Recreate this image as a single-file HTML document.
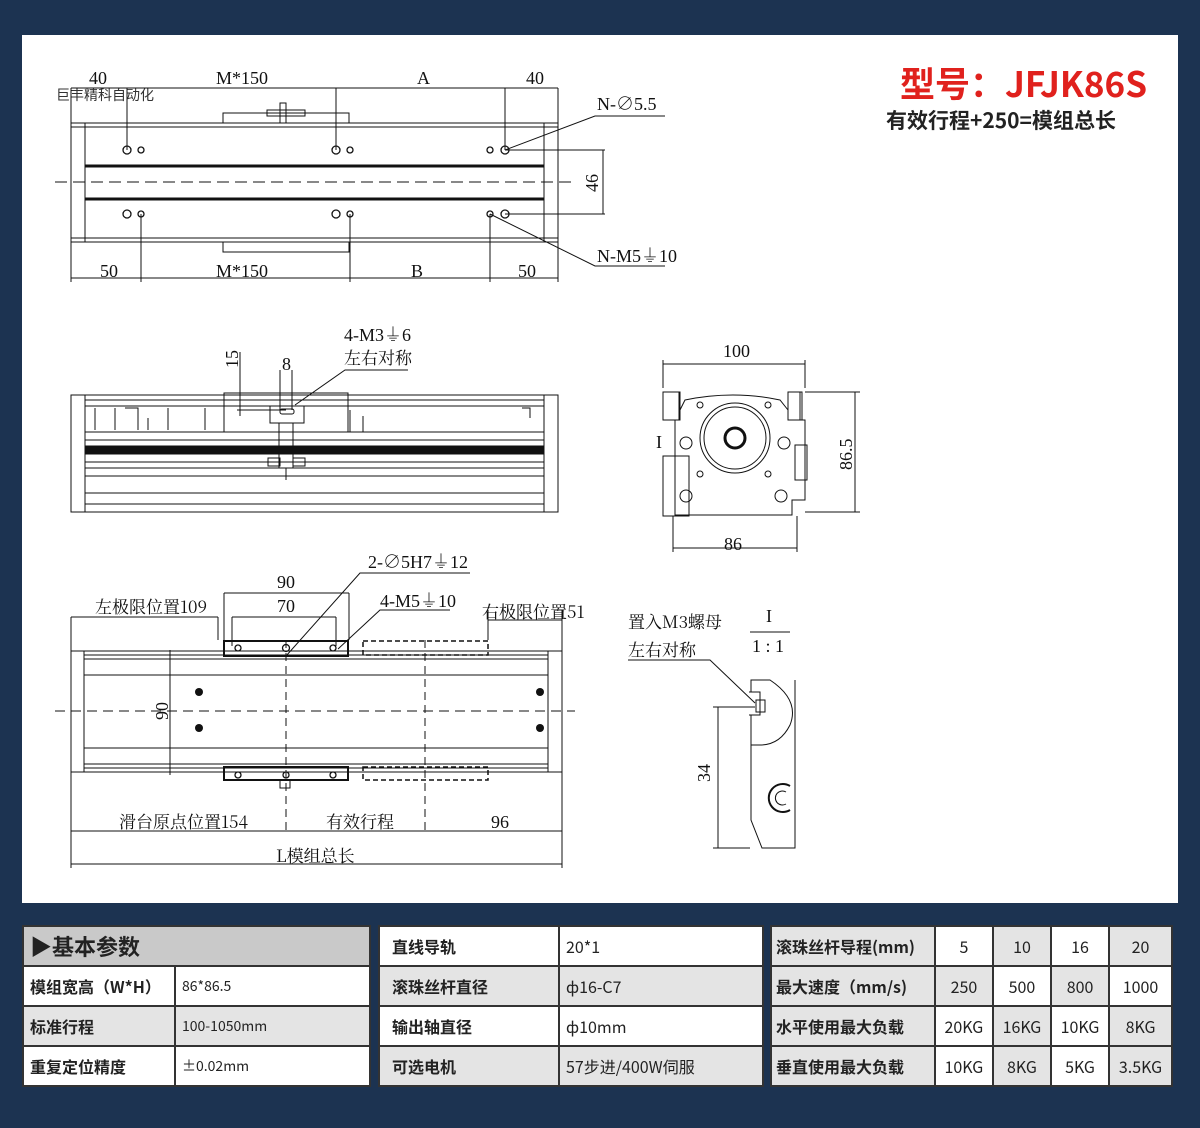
<!DOCTYPE html>
<html><head><meta charset="utf-8"><style>
body{margin:0;width:1200px;height:1128px;background:#1c3351;overflow:hidden;font-family:"Liberation Sans","Noto Sans CJK SC",sans-serif}
#p{position:absolute;left:22px;top:35px;width:1156px;height:868px;background:#fff}
svg{position:absolute;left:0;top:0}
.t{position:absolute;border-collapse:collapse;font-family:"Noto Sans CJK SC",sans-serif;color:#222}
.t td{border:2px solid #333;height:38px;padding:0 6px;font-size:16px;font-weight:bold;white-space:nowrap}
.g{background:#e4e4e4}.w{background:#fff}
</style></head><body>
<div id="p"></div>
<svg width="1200" height="1128" font-family="Liberation Serif,Noto Serif CJK SC,serif" font-size="18" fill="none" stroke="#111" stroke-width="1">
<text x="900" y="97" fill="#e0211d" stroke="none" font-family="Noto Sans CJK SC,sans-serif" font-weight="bold" font-size="35">型号：JFJK86S</text>
<text x="886" y="128" fill="#222" stroke="none" font-family="Noto Sans CJK SC,sans-serif" font-weight="bold" font-size="21">有效行程+250=模组总长</text>
<text x="56" y="100" fill="#333" stroke="none" font-family="Noto Sans CJK SC,sans-serif" font-size="14">巨丰精科自动化</text>
<!-- TOP VIEW -->
<g>
<rect x="71" y="123" width="487" height="119"/><line x1="85" y1="123" x2="85" y2="242"/><line x1="544" y1="123" x2="544" y2="242"/>
<line x1="71" y1="127" x2="558" y2="127"/><line x1="71" y1="238" x2="558" y2="238"/>
<line x1="85" y1="166" x2="544" y2="166" stroke-width="3"/><line x1="85" y1="199" x2="544" y2="199" stroke-width="3"/>
<line x1="55" y1="182" x2="575" y2="182" stroke-dasharray="12,6"/>
<rect x="223" y="113" width="126" height="10"/><rect x="267" y="110" width="38" height="6"/><rect x="280" y="103" width="6" height="20"/>
<rect x="223" y="242" width="126" height="10"/>
<g stroke-width="1.3"><circle cx="127" cy="150" r="4"/><circle cx="141" cy="150" r="3"/><circle cx="336" cy="150" r="4"/><circle cx="350" cy="150" r="3"/><circle cx="490" cy="150" r="3"/><circle cx="505" cy="150" r="4"/>
<circle cx="127" cy="214" r="4"/><circle cx="141" cy="214" r="3"/><circle cx="336" cy="214" r="4"/><circle cx="350" cy="214" r="3"/><circle cx="490" cy="214" r="3"/><circle cx="505" cy="214" r="4"/></g>
<path d="M71 88H558M71 88V123M127 88V150M336 88V150M505 88V150M558 88V123M71 278H558M71 242V282M141 214V282M350 214V282M490 214V282M558 242V282M505 150H605M505 214H605M603 150V214M505 150L595 116H665M490 214L595 266H665"/>
<g fill="#111" stroke="none"><text x="89" y="84">40</text><text x="216" y="84">M*150</text><text x="417" y="84">A</text><text x="526" y="84">40</text>
<text x="100" y="277">50</text><text x="216" y="277">M*150</text><text x="411" y="277">B</text><text x="518" y="277">50</text>
<text x="597" y="110">N-∅5.5</text><text x="597" y="262">N-M5⏚10</text><text transform="translate(598,192) rotate(-90)">46</text></g>
</g>
<!-- SIDE VIEW -->
<g>
<rect x="71" y="395" width="487" height="117"/><line x1="85" y1="395" x2="85" y2="512"/><line x1="544" y1="395" x2="544" y2="512"/>
<line x1="85" y1="400" x2="544" y2="400"/><line x1="85" y1="406" x2="544" y2="406"/><line x1="85" y1="432" x2="544" y2="432"/><line x1="85" y1="440" x2="544" y2="440"/>
<rect x="85" y="446" width="459" height="8" fill="#111"/><line x1="85" y1="462" x2="544" y2="462"/><line x1="85" y1="468" x2="544" y2="468"/><line x1="85" y1="476" x2="544" y2="476"/><line x1="85" y1="493" x2="544" y2="493"/><line x1="85" y1="504" x2="544" y2="504"/>
<rect x="224" y="393" width="124" height="39"/><rect x="270" y="406" width="34" height="17"/><rect x="279" y="423" width="14" height="45"/><line x1="286" y1="468" x2="286" y2="480"/>
<rect x="268" y="458" width="12" height="8"/><rect x="293" y="458" width="12" height="8"/><rect x="280" y="409" width="14" height="5" rx="2"/>
<path d="M95 408V430M115 408V430M125 408H138V430M148 418V430M168 408V430M205 408V430M350 410V432M363 416V432M522 408H530V418"/>
<path d="M240 352V416M237 410H286M280 370V410M292 370V410M295 405L345 370H408"/>
<g fill="#111" stroke="none"><text x="344" y="341">4-M3⏚6</text><text x="344" y="364" font-family="Noto Serif CJK SC,serif" font-size="17">左右对称</text><text x="282" y="370">8</text><text transform="translate(238,368) rotate(-90)">15</text></g>
</g>
<!-- FRONT VIEW -->
<g>
<path d="M663 392H680V420H675V515H688M688 515H792V500H805V420H800V392H788V410L780 400Q733 390 685 400L680 410"/>
<rect x="663" y="392" width="16" height="28"/><rect x="788" y="392" width="14" height="28"/>
<circle cx="735" cy="438" r="35"/><circle cx="735" cy="438" r="31"/><circle cx="735" cy="438" r="10" stroke-width="3"/>
<circle cx="686" cy="443" r="6"/><circle cx="784" cy="443" r="6"/><circle cx="686" cy="496" r="6"/><circle cx="781" cy="496" r="6"/>
<circle cx="700" cy="405" r="3"/><circle cx="768" cy="405" r="3"/><circle cx="700" cy="474" r="3"/><circle cx="768" cy="474" r="3"/>
<rect x="663" y="456" width="26" height="60"/><rect x="795" y="445" width="12" height="35"/>
<path d="M663 388V360M805 388V360M663 364H805M805 392H860M805 512H860M855 392V512M673 516V552M797 516V552M673 548H797"/>
<g fill="#111" stroke="none"><text x="723" y="357">100</text><text x="724" y="550">86</text><text transform="translate(852,470) rotate(-90)">86.5</text><text x="656" y="448">I</text></g>
</g>
<!-- BOTTOM VIEW -->
<g>
<rect x="71" y="651" width="491" height="121"/><line x1="84" y1="651" x2="84" y2="772"/><line x1="548" y1="651" x2="548" y2="772"/>
<line x1="84" y1="655" x2="548" y2="655"/><line x1="84" y1="659" x2="548" y2="659"/><line x1="84" y1="675" x2="548" y2="675"/><line x1="84" y1="748" x2="548" y2="748"/><line x1="84" y1="764" x2="548" y2="764"/><line x1="84" y1="768" x2="548" y2="768"/>
<line x1="55" y1="711" x2="575" y2="711" stroke-dasharray="10,6"/>
<rect x="224" y="641" width="124" height="15" stroke-width="2"/><rect x="363" y="641" width="125" height="14" stroke-dasharray="5,3" stroke-width="1.5"/>
<rect x="224" y="767" width="124" height="13" stroke-width="2"/><rect x="363" y="767" width="125" height="13" stroke-dasharray="5,3" stroke-width="1.5"/>
<rect x="280" y="780" width="10" height="8"/>
<g fill="#111" stroke="none"><circle cx="199" cy="692" r="4"/><circle cx="199" cy="728" r="4"/><circle cx="540" cy="692" r="4"/><circle cx="540" cy="728" r="4"/></g>
<g stroke-width="1.3"><circle cx="238" cy="648" r="3"/><circle cx="286" cy="648" r="3.5"/><circle cx="333" cy="648" r="3"/><circle cx="238" cy="775" r="3"/><circle cx="286" cy="775" r="3"/><circle cx="333" cy="775" r="3"/></g>
<path d="M286 640V835M425 640V835" stroke-dasharray="8,5"/>
<path d="M71 617H218M71 617V651M218 617V640M224 593H349M224 593V640M349 593V640M232 617H336M232 617V646M336 617V646M488 620H562M488 610V640M562 610V651M71 772V868M562 772V868M71 831H562M71 864H562M286 656L360 573H470M338 649L380 610H450M170 650V775"/>
<g fill="#111" stroke="none"><text x="277" y="588">90</text><text x="277" y="612">70</text><text x="95" y="613" font-family="Noto Serif CJK SC,serif" font-size="17">左极限位置109</text><text x="482" y="618" font-family="Noto Serif CJK SC,serif" font-size="17">右极限位置51</text>
<text x="368" y="568">2-∅5H7⏚12</text><text x="380" y="607">4-M5⏚10</text><text transform="translate(168,720) rotate(-90)">90</text>
<text x="119" y="828" font-family="Noto Serif CJK SC,serif" font-size="17">滑台原点位置154</text><text x="326" y="828" font-family="Noto Serif CJK SC,serif" font-size="17">有效行程</text><text x="491" y="828">96</text><text x="276" y="862" font-family="Noto Serif CJK SC,serif" font-size="17">L模组总长</text></g>
</g>
<!-- DETAIL I -->
<g>
<path d="M751 680H770Q800 700 790 725Q780 745 760 745H751ZM751 680V820L762 848H795V680"/>
<path d="M795 680V848" stroke-dasharray="8,4"/>
<path d="M749 692H760V715H749" fill="#fff"/><rect x="756" y="700" width="9" height="12"/>
<path d="M790 810A14 14 0 1 1 790 786" stroke-width="2"/><path d="M786 804A7 7 0 1 1 786 792"/>
<path d="M713 707H755M718 707V848M713 848H750M628 660H710L755 703M750 632H790"/>
<g fill="#111" stroke="none"><text x="628" y="628" font-family="Noto Serif CJK SC,serif" font-size="17">置入M3螺母</text><text x="628" y="656" font-family="Noto Serif CJK SC,serif" font-size="17">左右对称</text><text x="766" y="622">I</text><text x="752" y="652">1 : 1</text><text transform="translate(710,782) rotate(-90)">34</text></g>
</g>
</svg>
<table class="t" style="left:22px;top:925px;width:349px">
<tr><td colspan="2" style="background:#c9c9c9;font-size:22px">▶基本参数</td></tr>
<tr class="w"><td style="width:138px">模组宽高（W*H）</td><td style="font-weight:normal;font-size:14px">86*86.5</td></tr>
<tr class="g"><td>标准行程</td><td style="font-weight:normal;font-size:14px">100-1050mm</td></tr>
<tr class="w"><td>重复定位精度</td><td style="font-weight:normal;font-size:14px">±0.02mm</td></tr>
</table>
<table class="t" style="left:378px;top:925px;width:386px">
<tr class="w"><td style="width:160px;padding-left:12px">直线导轨</td><td style="font-weight:normal">20*1</td></tr>
<tr class="g"><td style="padding-left:12px">滚珠丝杆直径</td><td style="font-weight:normal">ф16-C7</td></tr>
<tr class="w"><td style="padding-left:12px">输出轴直径</td><td style="font-weight:normal">ф10mm</td></tr>
<tr class="g"><td style="padding-left:12px">可选电机</td><td style="font-weight:normal">57步进/400W伺服</td></tr>
</table>
<table class="t" style="left:770px;top:925px;width:403px;text-align:center">
<tr><td class="g" style="text-align:left;padding:0 4px">滚珠丝杆导程(mm)</td><td class="w" style="font-weight:normal">5</td><td class="g" style="font-weight:normal">10</td><td class="w" style="font-weight:normal">16</td><td class="g" style="font-weight:normal">20</td></tr>
<tr><td class="g" style="text-align:left;padding:0 4px">最大速度（mm/s)</td><td class="g" style="font-weight:normal">250</td><td class="w" style="font-weight:normal">500</td><td class="g" style="font-weight:normal">800</td><td class="w" style="font-weight:normal">1000</td></tr>
<tr><td class="g" style="text-align:left;padding:0 4px">水平使用最大负载</td><td class="w" style="font-weight:normal">20KG</td><td class="g" style="font-weight:normal">16KG</td><td class="w" style="font-weight:normal">10KG</td><td class="g" style="font-weight:normal">8KG</td></tr>
<tr><td class="g" style="text-align:left;padding:0 4px">垂直使用最大负载</td><td class="w" style="font-weight:normal">10KG</td><td class="g" style="font-weight:normal">8KG</td><td class="w" style="font-weight:normal">5KG</td><td class="g" style="font-weight:normal">3.5KG</td></tr>
</table>
</body></html>
